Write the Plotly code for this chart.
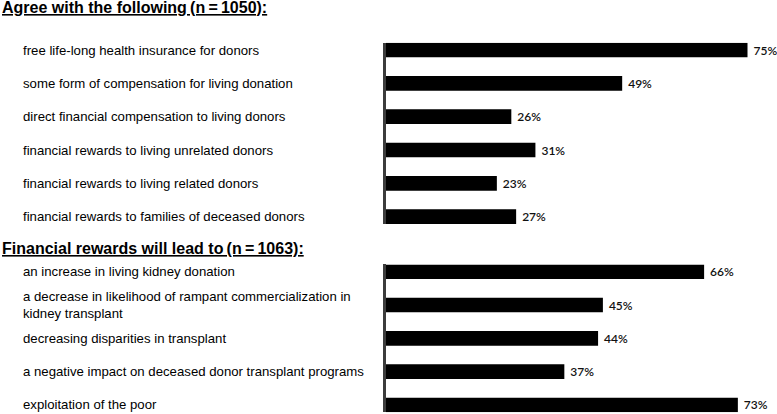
import plotly.graph_objects as go

W, H = 777, 414

# top panel: "Agree with the following"
agree_labels = ['free life-long health insurance for donors',
                'some form of compensation for living donation',
                'direct financial compensation to living donors',
                'financial rewards to living unrelated donors',
                'financial rewards to living related donors',
                'financial rewards to families of deceased donors']
agree_pct = [75, 49, 26, 31, 23, 27]

# bottom panel: "Financial rewards will lead to"
lead_labels = ['an increase in living kidney donation',
               'a decrease in likelihood of rampant commercialization in<br>kidney transplant',
               'decreasing disparities in transplant',
               'a negative impact on deceased donor transplant programs',
               'exploitation of the poor']
lead_pct = [66, 45, 44, 37, 73]

titles = ['Agree with the following\u2009(n\u2009=\u20091050):',
          'Financial rewards will lead to\u2009(n\u2009=\u20091063):']

LABEL_FONT = dict(family='Liberation Sans, Arial', size=13.2, color='black')
PCT_FONT = dict(family='Lato', size=12, color='#111111', weight=600)

def px_y(p):  # pixel row -> paper y
  return 1 - p / H

fig = go.Figure()
for ax, labels, vals in (('', agree_labels, agree_pct), ('2', lead_labels, lead_pct)):
  fig.add_trace(go.Bar(
    y = list(range(len(vals))), x = vals, orientation = 'h',
    xaxis = 'x' + ax, yaxis = 'y' + ax,
    width = 0.44, marker = dict(color = 'black', line = dict(width = 0)),
    text = [f'{v}%' for v in vals], texttemplate = ' %{text}',
    textposition = 'outside', textfont = PCT_FONT,
    cliponaxis = False, constraintext = 'none', showlegend = False,
  ))
  for i, lab in enumerate(labels):
    fig.add_annotation(text = lab, xref = 'paper', yref = 'y' + ax,
                       x = 20.5 / W, y = i, xanchor = 'left', yanchor = 'middle',
                       align = 'left', showarrow = False, font = LABEL_FONT)

x_dom = [386 / W, 1]
x_rng = [0, 391 / 4.82]
yline = dict(showline = True, linecolor = '#3c3c3c', linewidth = 2.5,
             showticklabels = False, ticks = '', showgrid = False, zeroline = False)
xcommon = dict(domain = x_dom, range = x_rng, visible = False, showgrid = False)

fig.update_layout(
  width = W, height = H,
  margin = dict(l = 0, r = 0, t = 0, b = 0),
  paper_bgcolor = 'white', plot_bgcolor = 'white',
  xaxis = dict(**xcommon, anchor = 'y'),
  xaxis2 = dict(**xcommon, anchor = 'y2'),
  yaxis = dict(**yline, domain = [px_y(224), px_y(42.7)], range = [5.22, -0.22], anchor = 'x'),
  yaxis2 = dict(**yline, domain = [px_y(412.3), px_y(264.4)], range = [4.22, -0.22], anchor = 'x2'),
)

for t, ypx in zip(titles, [7.5, 248]):
  fig.add_annotation(text = f'<b><u>{t}</u></b>', xref = 'paper', yref = 'paper',
                     x = 0, y = px_y(ypx), xanchor = 'left', yanchor = 'middle',
                     showarrow = False,
                     font = dict(family = 'Liberation Sans, Arial', size = 16, color = 'black'))

#page body has a default 8px margin, drop it so the figure fills the window
fig.write_html('out.html', config = {'displayModeBar': False},
               post_script = "document.body.style.margin = '0';")
